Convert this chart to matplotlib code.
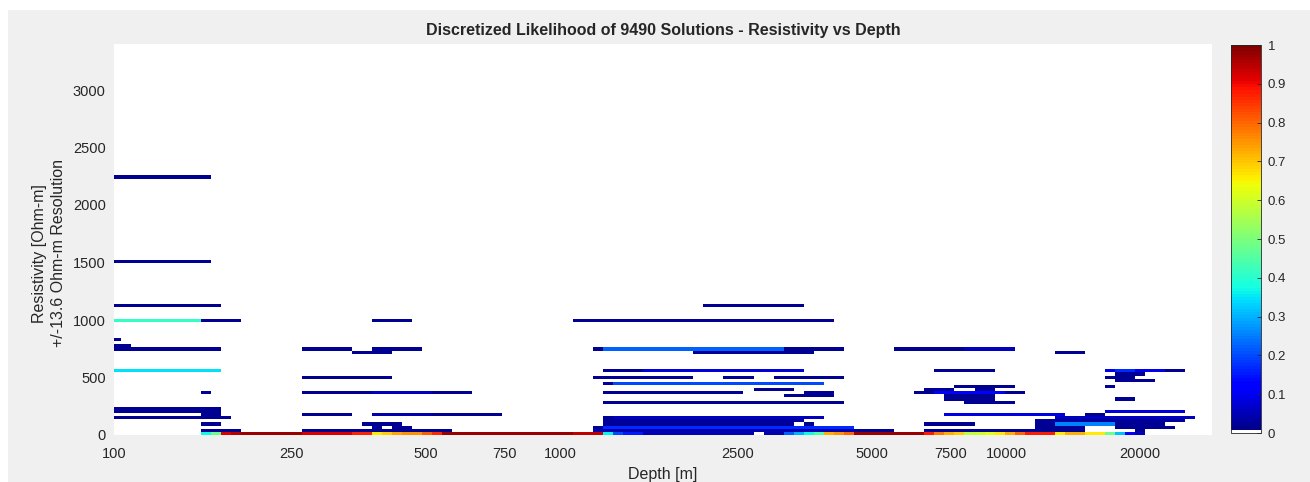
import numpy as np
import matplotlib
matplotlib.use("Agg")
import matplotlib.pyplot as plt
from matplotlib.colors import ListedColormap
from matplotlib.patches import Rectangle

plt.rcParams["font.family"] = ["Liberation Sans", "DejaVu Sans"]

# depth grid: log spaced layers, 110 columns (m)
depth_edges = np.geomspace(98.3, 29500, 111)
res_step = 27.2  # +/-13.6 Ohm-m bins
n_res = 125

depth_ticks = [100, 250, 500, 750, 1000, 2500, 5000, 7500, 10000, 20000]
res_ticks = [0, 500, 1000, 1500, 2000, 2500, 3000]
cbar_ticks = [0, 0.1, 0.2, 0.3, 0.4, 0.5, 0.6, 0.7, 0.8, 0.9, 1]

# likelihood of the lowest resistivity bin, columns 9..102
bottom_first_col = 9
bottom_vals = [
    0.37, 0.48, 0.92, 0.95, 0.97, 0.97, 0.97, 0.97, 0.97, 0.97,
    0.92, 0.92, 0.92, 0.92, 0.92, 0.87, 0.87, 0.66, 0.69, 0.73,
    0.75, 0.75, 0.81, 0.86, 0.97, 0.97, 0.97, 0.97, 0.97, 0.97,
    0.97, 0.97, 0.97, 0.97, 0.97, 0.97, 0.97, 0.94, 0.94, 0.94,
    0.36, 0.20, 0.15, 0.15, 0.05, 0.05, 0.05, 0.05, 0.05, 0.05,
    0.05, 0.05, 0.05, 0.05, 0.05, 0.00, 0.04, 0.04, 0.22, 0.30,
    0.37, 0.45, 0.72, 0.75, 0.80, 0.97, 0.97, 0.97, 0.97, 0.97,
    0.97, 0.97, 0.88, 0.78, 0.72, 0.69, 0.58, 0.60, 0.63, 0.66,
    0.72, 0.80, 0.88, 0.88, 0.88, 0.66, 0.72, 0.72, 0.66, 0.66,
    0.48, 0.32, 0.13, 0.05,
]

# (resistivity Ohm-m, first column, end column, likelihood)
shallow_segments = [
    (2244, 0, 10, 0.02),
    (1510, 0, 10, 0.02),
    (1129, 0, 11, 0.02),
    (993, 0, 9, 0.41),
    (993, 9, 13, 0.02),
    (830, 0, 1, 0.02),
    (775, 0, 2, 0.02),
    (748, 0, 11, 0.02),
    (558, 0, 11, 0.35),
    (367, 9, 10, 0.02),
    (231, 0, 11, 0.02),
    (204, 0, 11, 0.02),
    (177, 9, 11, 0.02),
    (150, 0, 12, 0.02),
    (95, 9, 11, 0.02),
    (41, 9, 13, 0.02),
    (993, 26, 30, 0.02),
    (748, 19, 24, 0.02),
    (748, 26, 31, 0.02),
    (721, 24, 28, 0.02),
    (503, 19, 28, 0.02),
    (367, 19, 26, 0.02),
    (367, 26, 32, 0.06),
    (367, 32, 36, 0.02),
    (177, 19, 24, 0.02),
    (177, 26, 32, 0.04),
    (177, 32, 39, 0.02),
    (95, 25, 29, 0.02),
    (68, 26, 27, 0.02),
    (68, 28, 30, 0.02),
    (41, 19, 34, 0.02),
]

middle_segments = [
    (1129, 59, 69, 0.02),
    (993, 46, 72, 0.02),
    (748, 48, 49, 0.02),
    (748, 49, 67, 0.22),
    (748, 67, 73, 0.02),
    (721, 58, 70, 0.02),
    (558, 49, 53, 0.02),
    (558, 53, 69, 0.08),
    (503, 48, 58, 0.02),
    (503, 61, 64, 0.02),
    (503, 66, 73, 0.02),
    (449, 49, 50, 0.02),
    (449, 50, 71, 0.20),
    (394, 64, 68, 0.02),
    (367, 49, 63, 0.02),
    (367, 69, 72, 0.02),
    (340, 67, 72, 0.02),
    (286, 49, 73, 0.02),
    (150, 49, 50, 0.02),
    (150, 50, 71, 0.06),
    (122, 49, 69, 0.03),
    (95, 49, 68, 0.03),
    (95, 69, 70, 0.02),
    (68, 48, 49, 0.02),
    (68, 49, 74, 0.17),
    (41, 48, 78, 0.04),
]

deep_segments = [
    (748, 78, 85, 0.02),
    (748, 85, 90, 0.06),
    (721, 94, 97, 0.02),
    (558, 82, 88, 0.02),
    (558, 99, 100, 0.10),
    (558, 100, 102, 0.17),
    (558, 102, 105, 0.10),
    (558, 105, 107, 0.02),
    (530, 100, 103, 0.02),
    (503, 99, 102, 0.02),
    (476, 100, 104, 0.02),
    (422, 84, 90, 0.02),
    (422, 99, 100, 0.02),
    (394, 81, 84, 0.02),
    (394, 86, 88, 0.02),
    (367, 80, 82, 0.02),
    (367, 82, 89, 0.12),
    (367, 89, 91, 0.02),
    (340, 83, 88, 0.02),
    (313, 83, 88, 0.02),
    (313, 100, 102, 0.02),
    (286, 85, 90, 0.02),
    (204, 99, 107, 0.08),
    (177, 83, 95, 0.09),
    (177, 97, 99, 0.02),
    (150, 94, 108, 0.06),
    (122, 92, 107, 0.03),
    (95, 81, 86, 0.02),
    (95, 92, 94, 0.02),
    (95, 94, 100, 0.25),
    (95, 100, 105, 0.02),
    (68, 92, 97, 0.02),
    (68, 100, 106, 0.02),
    (41, 74, 78, 0.02),
    (41, 81, 97, 0.02),
    (41, 102, 103, 0.02),
]

W, H = 1310, 482
TEXT = "#262626"

grid = np.zeros((n_res, len(depth_edges) - 1))
for res, j0, j1, val in shallow_segments + middle_segments + deep_segments:
    grid[int(res // res_step), j0:j1] = val
grid[0, bottom_first_col:bottom_first_col + len(bottom_vals)] = bottom_vals
res_edges = np.arange(n_res + 1) * res_step

colors = plt.get_cmap("jet", 128)(np.linspace(0, 1, 128))
colors[0] = [1, 1, 1, 1]
cmap = ListedColormap(colors)

fig = plt.figure(figsize=(W / 100, H / 100), dpi=100, facecolor="white")
fig.add_artist(Rectangle((8 / W, -0.01), 1, 1.01 - 10 / H, transform=fig.transFigure,
                         facecolor="#F0F0F0", edgecolor="none", zorder=-5))

ax = fig.add_axes([114 / W, 47 / H, 1098 / W, 391 / H])
ax.set_facecolor("white")
mesh = ax.pcolormesh(depth_edges, res_edges, grid, cmap=cmap, vmin=0, vmax=1,
                     shading="flat", antialiased=False, linewidth=0)
ax.set_xscale("log")
ax.set_xlim(100, 28960)
ax.set_ylim(0, n_res * res_step)
ax.set_xticks(depth_ticks)
ax.set_xticklabels([str(d) for d in depth_ticks])
ax.xaxis.set_minor_locator(matplotlib.ticker.NullLocator())
ax.set_yticks(res_ticks)
ax.tick_params(length=0, labelsize=10.5, colors=TEXT)
ax.tick_params(axis="x", pad=9)
ax.tick_params(axis="y", pad=6)
for spine in ax.spines.values():
    spine.set_visible(False)

ax.set_xlabel("Depth [m]", fontsize=11.5, color=TEXT, va="top")
ax.xaxis.set_label_coords(0.5, -0.083)
ax.set_ylabel("Resistivity [Ohm-m]\n+/-13.6 Ohm-m Resolution", fontsize=11.5,
              color=TEXT, linespacing=1.3)
ax.yaxis.set_label_coords(-0.044, 0.465)

fig.text(663 / W, 1 - 31 / H,
         "Discretized Likelihood of 9490 Solutions - Resistivity vs Depth",
         ha="center", va="center", fontsize=11.5, fontweight="bold", color=TEXT)

cax = fig.add_axes([1231 / W, 49 / H, 30 / W, 388 / H])
cb = fig.colorbar(mesh, cax=cax, ticks=cbar_ticks)
cb.ax.set_yticklabels([f"{t:g}" for t in cbar_ticks])
cb.outline.set_edgecolor(TEXT)
cb.outline.set_linewidth(0.6)
cax.tick_params(direction="in", length=3, width=0.6, labelsize=9.5,
                colors=TEXT, pad=5)

fig.savefig("out.png", dpi=100, facecolor=fig.get_facecolor())
